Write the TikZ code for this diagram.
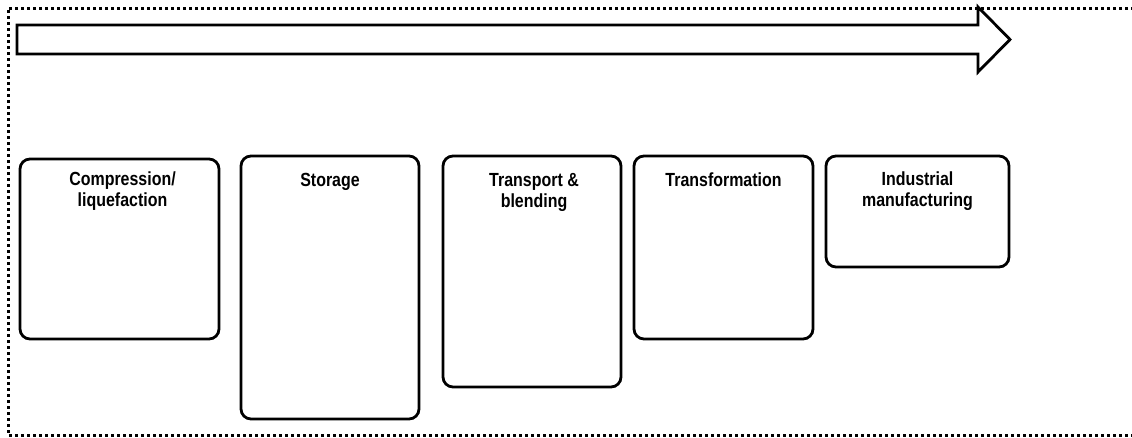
\documentclass[tikz,border=0pt]{standalone}
\usepackage{fontspec}
\setmainfont{Liberation Sans}
\newfontfamily\narrowsans[FakeStretch=0.84]{Liberation Sans}
\begin{document}
\begin{tikzpicture}[x=1pt,y=-1pt,
  stagebox/.style={draw=black,line width=2.8pt,rounded corners=10pt,fill=white},
  stagelabel/.style={anchor=north,inner sep=0pt,align=center,
    font=\narrowsans\fontsize{19}{21}\selectfont\bfseries},
  frame/.style={line width=3pt,dash pattern=on 3pt off 3pt},
  flow/.style={draw=black,line width=2.8pt,fill=white,line join=miter}]
\useasboundingbox (0,0) rectangle (1132,437);

% open dotted frame
\coordinate (ftr) at (1140,8);
\coordinate (ftl) at (8,8);
\coordinate (fbl) at (8,435);
\coordinate (fbr) at (1140,435);
\draw[frame] (ftr) -- (ftl) -- (fbl) -- (fbr);

% block arrow across the top
\draw[flow] (17,25) -- (978,25) -- (978,7) -- (1010,39.5) -- (978,72)
  -- (978,54) -- (17,54) -- cycle;

% stage boxes
\draw[stagebox] (20,159) rectangle (219,339);
\draw[stagebox] (241,156) rectangle (419,419);
\draw[stagebox] (443,156) rectangle (621,387);
\draw[stagebox] (634,156) rectangle (813,339);
\draw[stagebox] (826,156) rectangle (1009,267);

% stage titles
\node[stagelabel] (t1) at (122.5,172) {Compression/\\liquefaction};
\node[stagelabel] (t2) at (330,173) {Storage};
\node[stagelabel] (t3) at (534,173) {Transport \&\\blending};
\node[stagelabel] (t4) at (723.5,173) {Transformation};
\node[stagelabel] (t5) at (917.5,172) {Industrial\\manufacturing};
\end{tikzpicture}
\end{document}
